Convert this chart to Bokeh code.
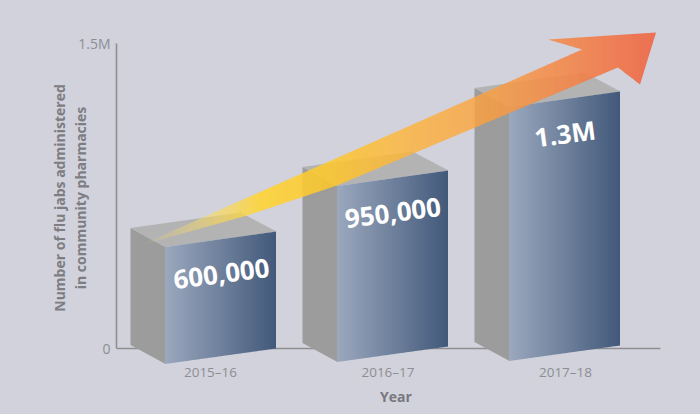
import math
from bokeh.plotting import figure
from bokeh.models import FixedTicker
from bokeh.core.properties import value
from bokeh.embed import file_html
from bokeh.resources import INLINE

# ---- data ----
categories = ["2015–16", "2016–17", "2017–18"]
bar_labels = ["600,000", "950,000", "1.3M"]
bar_heights = [575000, 875000, 1264000]   # drawn heights as read against the y axis
y_ticks = [0, 1500000]
y_tick_labels = ["0", "1.5M"]

# ---- style / geometry ----
BG = "#d1d2dc"
FONT = "Open Sans"
TXT = "#8e8e92"
K = 1500000 / 305.0          # value units per pixel
UX = 177.5                   # pixels per category
SNAP = -0.5                  # bokeh draws with a half-pixel offset

def X(px):   # picture x pixel -> data
    return (px - 210.0) / UX
def Y(py):   # picture y pixel -> data
    return (348.0 - py) * K
def DY(d):
    return d * K

bar_x_shift = [-79.5, -85.5, -91.0]   # back-left corner relative to the tick
bar_base_lift = [0, 2, 3]
SIDE_W, FRONT_W = 35, 111
FRONT_DROP, SIDE_DROP = 15.5, 19
BACK_TOP_DX = 75

p = figure(frame_width=559, frame_height=335, width=692, height=406,
           min_border_left=116, min_border_right=17, min_border_top=30, min_border_bottom=41,
           x_range=(X(116), X(675)), y_range=(Y(365), Y(30)),
           toolbar_location=None, output_backend="svg",
           background_fill_color=BG, border_fill_color=BG, outline_line_color=None)
p.grid.visible = False

# axes
ya = p.yaxis[0]
ya.ticker = FixedTicker(ticks=y_ticks)
ya.major_label_overrides = dict(zip(y_ticks, y_tick_labels))
ya.bounds = (0, 1500000)
ya.axis_line_color = "#8f8f8f"
ya.axis_line_width = 1.6
ya.major_tick_line_color = None
ya.minor_tick_line_color = None
ya.major_tick_out = 0
ya.major_tick_in = 0
ya.major_label_text_font = FONT
ya.major_label_text_font_size = "14px"
ya.major_label_text_color = TXT
ya.major_label_standoff = 6
ya.axis_label = "Number of flu jabs administered\nin community pharmacies"
ya.axis_label_text_font = FONT
ya.axis_label_text_font_size = "14px"
ya.axis_label_text_font_style = "bold"
ya.axis_label_text_color = "#7d7d83"
ya.axis_label_text_line_height = 1.1
ya.axis_label_standoff = -15

xa = p.xaxis[0]
xa.ticker = FixedTicker(ticks=list(range(len(categories))))
xa.major_label_overrides = dict(enumerate(categories))
xa.axis_line_color = None
xa.major_tick_line_color = None
xa.minor_tick_line_color = None
xa.major_tick_out = 0
xa.major_tick_in = 0
xa.major_label_text_font = FONT
xa.major_label_text_font_size = "13.5px"
xa.major_label_text_color = TXT
xa.major_label_standoff = -3
xa.axis_label = "Year"
xa.axis_label_text_font = FONT
xa.axis_label_text_font_size = "14px"
xa.axis_label_text_font_style = "bold"
xa.axis_label_text_color = "#77777d"
xa.axis_label_standoff = 3

# baseline at zero
p.segment(x0=[X(116)], y0=[0], x1=[X(660)], y1=[0], line_color="#8f8f8f", line_width=1.6)

def lerp(a, b, t):
    return a + (b - a) * t
def mix(c0, c1, t):
    return "#%02x%02x%02x" % tuple(round(lerp(c0[i], c1[i], t)) for i in range(3))

# 3-D bars
side_x, side_y, top_x, top_y = [], [], [], []
fx, fy, fc = [], [], []
for i, h in enumerate(bar_heights):
    tick_px = 210 + UX * i
    left = round(tick_px + bar_x_shift[i])
    front = left + SIDE_W
    right = front + FRONT_W
    lift = bar_base_lift[i]
    rt, rb = h, DY(lift)
    ft, fb = rt - DY(FRONT_DROP), rb - DY(FRONT_DROP)
    bt, bb = ft + DY(SIDE_DROP), fb + DY(SIDE_DROP)
    side_x.append([X(left), X(front), X(front), X(left)])
    side_y.append([bt, ft, fb, bb])
    top_x.append([X(left), X(left + BACK_TOP_DX + SIDE_W), X(right), X(front)])
    top_y.append([bt, bt + DY(15.5), rt, ft])
    for px in range(front, right):
        t0, t1 = (px - front) / FRONT_W, (px + 1 - front) / FRONT_W
        fx.append([X(px + SNAP), X(px + 1 + SNAP), X(px + 1 + SNAP), X(px + SNAP)])
        fy.append([lerp(ft, rt, t0), lerp(ft, rt, t1), lerp(fb, rb, t1), lerp(fb, rb, t0)])
        fc.append(mix((0x9b, 0xa8, 0xbe), (0x42, 0x59, 0x7a), (t0 + t1) / 2))
p.patches(side_x, side_y, fill_color="#9c9c9c", line_color=None)
p.patches(top_x, top_y, fill_color="#b3b3b3", line_color=None)
p.patches(fx, fy, fill_color=fc, line_color=None)

# arrow with gradient, cut in 1px slabs
arrow = [(140, 245), (198, 219), (582, 49), (548, 39), (656, 32), (640, 84), (618, 67),
         (468, 130), (337, 185), (247, 215)]
stops = [(140, (255, 224, 110), 0.03), (200, (255, 222, 90), 0.45), (260, (255, 212, 50), 0.88),
         (330, (255, 200, 40), 0.85), (400, (255, 182, 55), 0.8), (470, (253, 165, 60), 0.8),
         (560, (245, 135, 70), 0.86), (656, (237, 105, 75), 0.95)]
def grad(x):
    for (a, ca, aa), (b, cb, ab) in zip(stops, stops[1:]):
        if x <= b:
            t = (x - a) / (b - a)
            return mix(ca, cb, t), lerp(aa, ab, t)
    return mix(stops[-1][1], stops[-1][1], 0), stops[-1][2]
ax, ay, ac, aa = [], [], [], []
edges = list(zip(arrow, arrow[1:] + arrow[:1]))
for x0 in range(140, 656):
    x1 = x0 + 1
    mid = x0 + 0.5
    cross = []
    for (a, b) in edges:
        (xa0, ya0), (xa1, ya1) = sorted([a, b])
        if xa0 <= x0 and xa1 >= x1:
            f = lambda x: ya0 + (ya1 - ya0) * (x - xa0) / (xa1 - xa0)
            cross.append((f(mid), f(x0), f(x1)))
    cross.sort()
    c, al = grad(mid)
    for u, l in zip(cross[0::2], cross[1::2]):
        ax.append([X(x0 + SNAP), X(x1 + SNAP), X(x1 + SNAP), X(x0 + SNAP)])
        ay.append([Y(u[1]), Y(u[2]), Y(l[2]), Y(l[1])])
        ac.append(c)
        aa.append(al)
p.patches(ax, ay, fill_color=ac, fill_alpha=aa, line_color=None)

# value labels on the front faces
lx = [X(210 + UX * i + bar_x_shift[i] + SIDE_W + FRONT_W / 2) for i in range(3)]
ly = [h - DY(42) for h in bar_heights]
p.text(lx, ly, text=bar_labels, angle=math.radians(7.5), text_align="center", text_baseline="middle",
       text_color="white", text_font=value(FONT), text_font_style="bold", text_font_size="26px")

html = file_html(p, INLINE)
html = html.replace("</head>", "<style>html,body{background:%s;overflow:hidden}</style></head>" % BG)
open("out.html", "w").write(html)
